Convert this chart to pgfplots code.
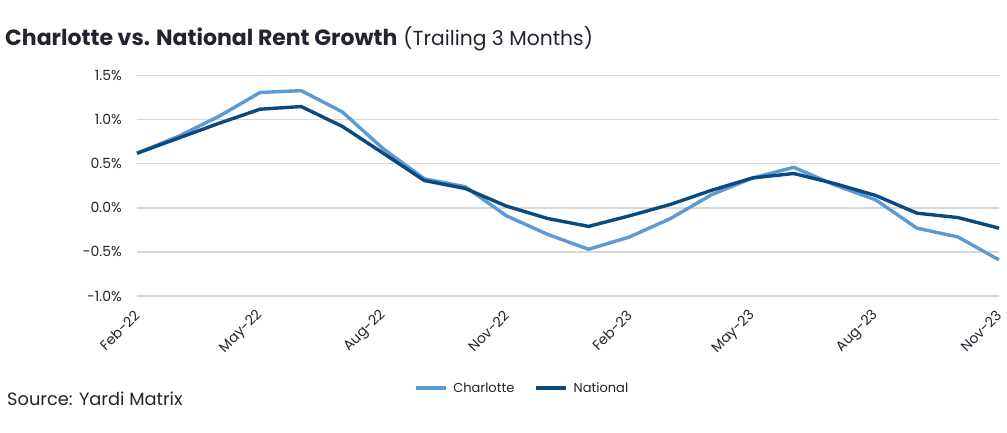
\documentclass[border=0pt]{standalone}
\usepackage{fontspec}
\setmainfont{Poppins}
\usepackage{pgfplots}
\pgfplotsset{compat=1.18}
\usepackage{pgfplotstable}

\definecolor{charlotte}{HTML}{5B9BD5}
\definecolor{national}{HTML}{0B4A7E}
\definecolor{gridgray}{HTML}{D9D9D9}
\definecolor{txt}{HTML}{232330}

% Trailing 3-month rent growth (%), months indexed from Feb-22 = 0
\pgfplotstableread{
m  charlotte national
0   0.62  0.62
1   0.81  0.79
2   1.04  0.96
3   1.31  1.12
4   1.33  1.15
5   1.09  0.925
6   0.67  0.62
7   0.33  0.31
8   0.24  0.22
9  -0.09  0.02
10 -0.30 -0.12
11 -0.47 -0.21
12 -0.33 -0.09
13 -0.12  0.04
14  0.15  0.20
15  0.34  0.34
16  0.46  0.39
17  0.26  0.275
18  0.09  0.14
19 -0.23 -0.06
20 -0.33 -0.11
21 -0.59 -0.23
}\rentdata

\begin{document}
\begin{tikzpicture}
\useasboundingbox (0,0) rectangle (1007bp,433bp);

\node[anchor=base west, inner sep=0pt, text=txt]
  at (5bp,387bp) {{\fontsize{22bp}{26bp}\selectfont\bfseries Charlotte vs. National Rent Growth}\hspace{6bp}{\fontsize{20.3bp}{24bp}\selectfont(Trailing 3 Months)}};

\node[anchor=base west, inner sep=0pt, text=txt, font=\fontsize{17.8bp}{21bp}\selectfont]
  at (7bp,28bp) {Source: Yardi Matrix};

\begin{axis}[
  at={(137bp,137bp)}, anchor=south west,
  scale only axis,
  width=862bp, height=220.3bp,
  xmin=0, xmax=21, ymin=-1, ymax=1.5,
  axis line style={draw=none},
  major tick length=0pt,
  ytick={-1,-0.5,0,0.5,1,1.5},
  yticklabels={-1.0\%,-0.5\%,0.0\%,0.5\%,1.0\%,1.5\%},
  xtick={0,3,6,9,12,15,18,21},
  xticklabels={Feb-22,May-22,Aug-22,Nov-22,Feb-23,May-23,Aug-23,Nov-23},
  ymajorgrids,
  grid style={gridgray, line width=1.3bp},
  tick label style={text=txt, font=\fontsize{14bp}{16bp}\selectfont, inner sep=0pt},
  yticklabel style={anchor=east},
  yticklabel shift=15bp,
  xticklabel style={rotate=45, anchor=east},
  xticklabel shift=17bp,
  legend columns=2,
  legend style={at={(0.449,-0.4176)}, anchor=center, draw=none, fill=none,
    font=\fontsize{13bp}{15bp}\selectfont, text=txt,
    nodes={inner xsep=6bp},
    /tikz/every even column/.append style={column sep=14bp}},
  legend image code/.code={\draw[#1] (0bp,0bp) -- (30bp,0bp);},
  clip=false,
]
\addplot[charlotte, line width=3.4bp, line join=round] table[x=m, y=charlotte] {\rentdata};
\addlegendentry{Charlotte}
\addplot[national, line width=3.4bp, line join=round] table[x=m, y=national] {\rentdata};
\addlegendentry{National}
\end{axis}
\end{tikzpicture}
\end{document}
